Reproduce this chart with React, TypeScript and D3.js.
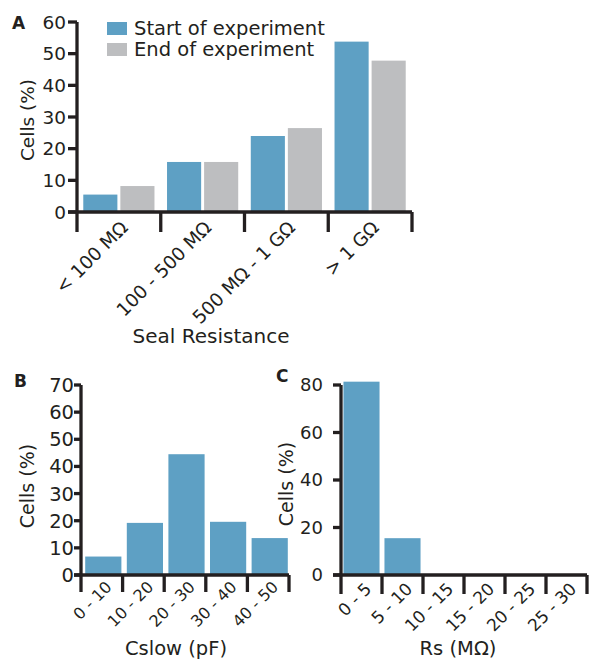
import React from 'react'
import * as d3 from 'd3'

// panel A: seal resistance, start vs end
const sealCategories = ['< 100 MΩ', '100 - 500 MΩ', '500 MΩ - 1 GΩ', '> 1 GΩ']
const sealStart = [5.5, 15.8, 24, 53.8]
const sealEnd = [8.2, 15.8, 26.5, 47.8]
const sealTicks = [0, 10, 20, 30, 40, 50, 60]
const seriesNames = ['Start of experiment', 'End of experiment']

// panel B: Cslow
const cslowCategories = ['0 - 10', '10 - 20', '20 - 30', '30 - 40', '40 - 50']
const cslowValues = [6.8, 19.2, 44.5, 19.6, 13.6]
const cslowTicks = [0, 10, 20, 30, 40, 50, 60, 70]

// panel C: Rs
const rsCategories = ['0 - 5', '5 - 10', '10 - 15', '15 - 20', '20 - 25', '25 - 30']
const rsValues = [81.4, 15.5, 0, 0, 0, 0]
const rsTicks = [0, 20, 40, 60, 80]

const INK = '#231f20'
const BLUE = '#5ea0c4'
const GREY = '#bdbec0'
const FONT = '"DejaVu Sans", sans-serif'

const Axes = ({ x, y, ticks, yTickLen, yLabelGap, yFont, xTickLen, xDx, xDy, xFont }) => {
	const [x0, x1] = x.range()
	const y0 = y(0)
	const yTop = y(ticks[ticks.length - 1])
	const step = x.step()
	const bounds = d3.range(x.domain().length + 1).map(i => x0 + i * step)
	return (
		<g>
			<line x1={x0} x2={x0} y1={yTop} y2={y0} stroke={INK} strokeWidth={3.3} />
			<line x1={x0 - yTickLen} x2={x1} y1={y0} y2={y0} stroke={INK} strokeWidth={3.3} />
			{ticks.map(t => (
				<g key={t}>
					<line x1={x0 - yTickLen} x2={x0} y1={y(t)} y2={y(t)} stroke={INK} strokeWidth={3.3} />
					<text x={x0 - yLabelGap} y={y(t)} dy="0.36em" textAnchor="end" fontSize={yFont}>{t}</text>
				</g>
			))}
			{bounds.map((b, i) => (
				<line key={i} x1={b} x2={b} y1={y0} y2={y0 + xTickLen} stroke={INK} strokeWidth={3.3} />
			))}
			{x.domain().map(c => (
				<text key={c} textAnchor="end" fontSize={xFont}
					transform={`translate(${x(c) + x.bandwidth() / 2 + xDx},${y0 + xDy}) rotate(-45)`}>{c}</text>
			))}
		</g>
	)
}

const App = () => {
	// A
	const xA = d3.scaleBand().domain(sealCategories).range([77, 412]).paddingInner(0.15).paddingOuter(0.075)
	const xA1 = d3.scaleBand().domain(seriesNames).range([0, xA.bandwidth()]).paddingInner(0.08)
	const yA = d3.scaleLinear().domain([0, 60]).range([212, 22])
	const series = [sealStart, sealEnd]
	const colors = [BLUE, GREY]

	// B
	const xB = d3.scaleBand().domain(cslowCategories).range([81, 289]).paddingInner(0.13).paddingOuter(0.065)
	const yB = d3.scaleLinear().domain([0, 70]).range([575, 385])

	// C
	const xC = d3.scaleBand().domain(rsCategories).range([341, 587]).paddingInner(0.12).paddingOuter(0.06)
	const yC = d3.scaleLinear().domain([0, 80]).range([575, 385])

	return (
		<svg width={596} height={659} style={{ position: 'absolute', left: 0, top: 0, background: '#fff' }}
			fontFamily={FONT} fill={INK}>
			{/* Panel A */}
			<text x={12} y={29} fontSize={17} fontWeight="bold">A</text>
			{series.map((vals, s) => vals.map((v, i) => (
				<rect key={`${s}-${i}`} x={xA(sealCategories[i]) + xA1(seriesNames[s])} y={yA(v)}
					width={xA1.bandwidth()} height={yA(0) - yA(v)} fill={colors[s]} />
			)))}
			<Axes x={xA} y={yA} ticks={sealTicks} yTickLen={9} yLabelGap={11} yFont={18.5}
				xTickLen={20} xDx={10} xDy={17} xFont={18.5} />
			<text transform="translate(34,120) rotate(-90)" textAnchor="middle" fontSize={18.5}>Cells (%)</text>
			<text x={211} y={343} textAnchor="middle" fontSize={20}>Seal Resistance</text>
			{seriesNames.map((n, s) => (
				<g key={n}>
					<rect x={107} y={22 + s * 21} width={20} height={13} fill={colors[s]} />
					<text x={134} y={34.5 + s * 21} fontSize={19.5}>{n}</text>
				</g>
			))}

			{/* Panel B */}
			<text x={14} y={387} fontSize={17} fontWeight="bold">B</text>
			{cslowValues.map((v, i) => (
				<rect key={i} x={xB(cslowCategories[i]) + 1.5} y={yB(v)} width={xB.bandwidth()}
					height={yB(0) - yB(v)} fill={BLUE} />
			))}
			<Axes x={xB} y={yB} ticks={cslowTicks} yTickLen={7} yLabelGap={7} yFont={19.5}
				xTickLen={17} xDx={11} xDy={13} xFont={16} />
			<text transform="translate(34,486) rotate(-90)" textAnchor="middle" fontSize={19}>Cells (%)</text>
			<text x={176} y={655} textAnchor="middle" fontSize={19.5}>Cslow (pF)</text>

			{/* Panel C */}
			<text x={276} y={382} fontSize={17} fontWeight="bold">C</text>
			{rsValues.map((v, i) => (
				<rect key={i} x={xC(rsCategories[i])} y={yC(v)} width={xC.bandwidth()}
					height={yC(0) - yC(v)} fill={BLUE} />
			))}
			<Axes x={xC} y={yC} ticks={rsTicks} yTickLen={8} yLabelGap={18} yFont={18}
				xTickLen={19} xDx={11} xDy={15} xFont={17} />
			<text transform="translate(293,484) rotate(-90)" textAnchor="middle" fontSize={19}>Cells (%)</text>
			<text x={458} y={655} textAnchor="middle" fontSize={19.5}>Rs (MΩ)</text>
		</svg>
	)
}

export default App
